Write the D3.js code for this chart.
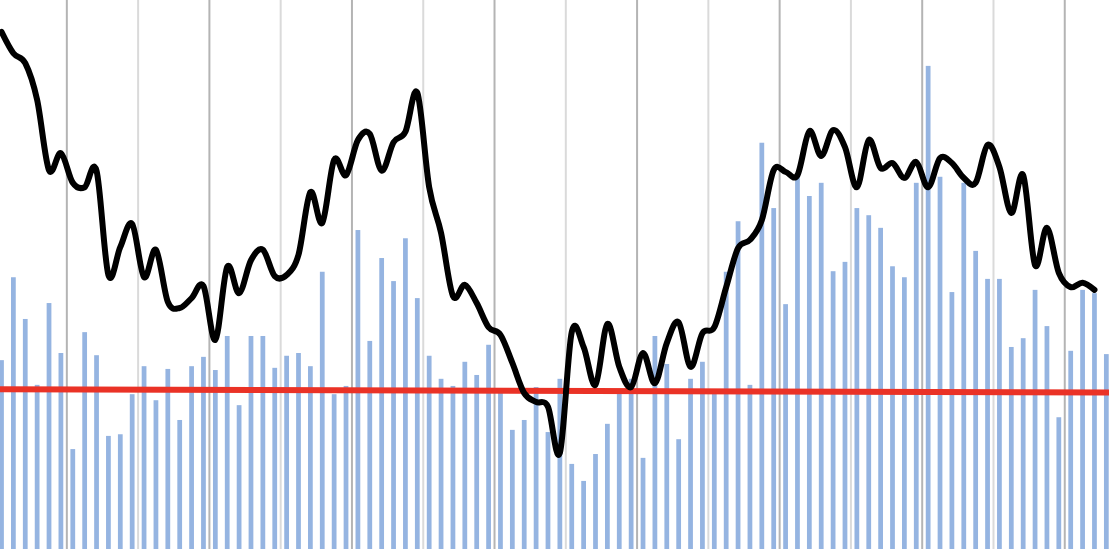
<!DOCTYPE html>
<html lang="en">
	<head>
		<meta charset="utf-8">
		<title>Monthly bars with smoothed line</title>
		<script src="https://cdn.jsdelivr.net/npm/d3@7"></script>
		<style type="text/css">
			html, body { margin: 0; padding: 0; background: #ffffff; overflow: hidden; }
			svg { display: block; }
		</style>
	</head>
	<body>
		<script type="text/javascript">
			//Width and height
			var w = 1109;
			var h = 549;

			//Categories: one per month, first one is July
			var months = d3.range(94);

			//Gridlines sit after these months (dark = year end, light = mid year)
			var yearTicks = [5, 17, 29, 41, 53, 65, 77, 89];
			var halfYearTicks = [11, 23, 35, 47, 59, 71, 83];

			//Monthly bar values
			var barValues = [
				34.4, 49.5, 41.9, 29.9, 44.8, 35.7, 18.2, 39.5, 35.3, 20.6, 20.9, 28.2,
				33.3, 27.1, 32.8, 23.5, 33.3, 35.0, 32.6, 38.8, 26.2, 38.8, 38.8, 33.0,
				35.2, 35.7, 33.3, 50.5, 28.2, 29.7, 58.1, 37.9, 53.0, 48.8, 56.6, 45.7,
				35.2, 31.0, 29.7, 34.1, 31.7, 37.2, 28.8, 21.7, 23.5, 29.5, 21.3, 31.0,
				15.5, 12.4, 17.3, 22.8, 29.1, 31.0, 16.6, 38.8, 33.7, 20.0, 31.0, 34.1,
				28.4, 50.5, 59.7, 29.9, 74.0, 62.1, 44.6, 67.8, 64.3, 66.7, 50.6, 52.3,
				62.1, 60.8, 58.5, 51.5, 49.5, 66.7, 88.0, 67.8, 46.8, 66.7, 54.3, 49.2,
				49.2, 36.8, 38.4, 47.2, 40.6, 24.0, 36.1, 47.2, 46.6, 35.5
			];

			//Smoothed line values (no value for the last month)
			var lineValues = [
				94.2, 90.3, 88.5, 81.8, 69.0, 72.1, 66.7, 65.9, 68.9, 49.9, 55.0, 59.2,
				49.5, 54.5, 45.0, 43.9, 45.7, 47.9, 38.1, 51.4, 46.6, 52.6, 54.5, 49.7,
				49.9, 53.6, 65.0, 59.4, 70.9, 68.1, 74.5, 75.6, 68.9, 74.1, 76.0, 83.1,
				65.9, 57.6, 46.1, 48.1, 44.8, 40.4, 39.0, 33.9, 28.4, 26.8, 25.9, 17.5,
				39.5, 36.8, 29.9, 41.0, 33.2, 29.5, 35.7, 30.2, 37.5, 41.3, 33.2, 39.3,
				40.4, 47.7, 54.8, 56.3, 59.9, 69.0, 68.7, 68.1, 76.1, 71.6, 76.3, 73.2,
				65.9, 74.5, 69.4, 70.3, 67.6, 70.5, 65.9, 71.2, 70.3, 67.6, 66.7, 73.6,
				69.6, 61.2, 68.1, 51.7, 58.5, 50.3, 47.7, 48.5, 47.2
			];

			//Linear trend: value at first and last month
			var trendValues = [29.1, 28.5];

			//Scales
			var step = 11.88;
			var xScale = d3.scaleBand()
							.domain(months)
							.range([1.5 - step / 2, 1.5 - step / 2 + step * months.length])
							.paddingInner(0.6)
							.paddingOuter(0.3);

			var yScale = d3.scaleLinear()
							.domain([0, 100])
							.range([h, 0]);

			var center = function(i) {
				return xScale(i) + xScale.bandwidth() / 2;
			};
			var boundary = function(i) {
				return center(i) + xScale.step() / 2;
			};

			//Create SVG element
			var svg = d3.select("body")
						.append("svg")
						.attr("width", w)
						.attr("height", h);

			//Gridlines
			svg.append("g")
				.attr("id", "grid-light")
				.selectAll("line")
				.data(halfYearTicks)
				.enter()
				.append("line")
				.attr("x1", boundary)
				.attr("x2", boundary)
				.attr("y1", 0)
				.attr("y2", h)
				.attr("stroke", "#dadada")
				.attr("stroke-width", 2);

			svg.append("g")
				.attr("id", "grid-dark")
				.selectAll("line")
				.data(yearTicks)
				.enter()
				.append("line")
				.attr("x1", boundary)
				.attr("x2", boundary)
				.attr("y1", 0)
				.attr("y2", h)
				.attr("stroke", "#b4b4b4")
				.attr("stroke-width", 2);

			//Bars
			svg.append("g")
				.attr("id", "bars")
				.selectAll("rect")
				.data(barValues)
				.enter()
				.append("rect")
				.attr("x", function(d, i) { return xScale(i); })
				.attr("y", function(d) { return yScale(d); })
				.attr("width", xScale.bandwidth())
				.attr("height", function(d) { return h - yScale(d); })
				.attr("fill", "#95b4e1");

			//Trend line
			var lastIndex = months.length - 1;
			var trendScale = d3.scaleLinear()
							.domain([0, lastIndex])
							.range(trendValues);
			var trendX = [-1, lastIndex + 1];
			svg.append("line")
				.attr("x1", center(0) + trendX[0] * xScale.step())
				.attr("y1", yScale(trendScale(trendX[0])))
				.attr("x2", center(lastIndex) + xScale.step())
				.attr("y2", yScale(trendScale(trendX[1])))
				.attr("stroke", "#ea3226")
				.attr("stroke-width", 6);

			//Smoothed line
			var line = d3.line()
						.x(function(d, i) { return center(i); })
						.y(function(d) { return yScale(d); })
						.curve(d3.curveCardinal.tension(0));

			svg.append("path")
				.datum(lineValues)
				.attr("d", line)
				.attr("fill", "none")
				.attr("stroke", "#000000")
				.attr("stroke-width", 6)
				.attr("stroke-linejoin", "round")
				.attr("stroke-linecap", "round");
		</script>
	</body>
</html>
